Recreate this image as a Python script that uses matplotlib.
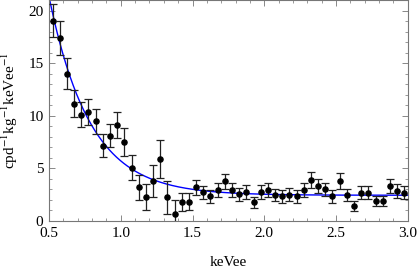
# Event rate spectrum with exponential + constant fit.
import numpy as np
import matplotlib
matplotlib.use("Agg")
import matplotlib.pyplot as plt
from matplotlib.ticker import MultipleLocator

# bin centres (keVee)
energy = [0.525, 0.575, 0.625, 0.675, 0.725, 0.775, 0.825, 0.875, 0.925, 0.975,
          1.025, 1.075, 1.125, 1.175, 1.225, 1.275, 1.325, 1.375, 1.425, 1.475,
          1.525, 1.575, 1.625, 1.675, 1.725, 1.775, 1.825, 1.875, 1.925, 1.975,
          2.025, 2.075, 2.125, 2.175, 2.225, 2.275, 2.325, 2.375, 2.425, 2.475,
          2.525, 2.575, 2.625, 2.675, 2.725, 2.775, 2.825, 2.875, 2.925, 2.975]

# rate (cpd/kg/keVee)
rate = [19.07, 17.4, 14.04, 11.17, 10.12, 10.4, 9.49, 7.15, 8.1, 9.14,
        7.53, 5.06, 3.19, 2.31, 3.8, 5.91, 2.25, 0.66, 1.83, 1.83,
        3.2, 2.72, 2.34, 2.97, 3.76, 2.94, 2.53, 2.78, 1.77, 2.78,
        2.97, 2.47, 2.34, 2.5, 2.34, 2.97, 3.89, 3.32, 3.0, 2.34,
        3.8, 2.47, 1.42, 2.69, 2.69, 1.9, 1.9, 3.32, 2.85, 2.69]

# 1-sigma errors
err = [1.6, 1.6, 1.45, 1.3, 1.2, 1.25, 1.2, 1.1, 1.1, 1.2,
       1.3, 1.2, 1.2, 1.25, 1.5, 1.8, 1.6, 1.35, 0.85, 0.8,
       0.7, 0.65, 0.65, 0.65, 0.75, 0.7, 0.65, 0.65, 0.5, 0.65,
       0.65, 0.6, 0.6, 0.6, 0.6, 0.65, 0.75, 0.7, 0.65, 0.6,
       0.75, 0.6, 0.5, 0.6, 0.6, 0.5, 0.5, 0.7, 0.65, 0.6]

# fit: constant + exponential
fit_const = 2.45
fit_amp = 18.9
fit_tau = 0.285

plt.rcParams['font.family'] = ['Liberation Serif', 'DejaVu Serif']
plt.rcParams['mathtext.fontset'] = 'stix'

fig = plt.figure(figsize=(4.17, 2.70), dpi=100)
ax = fig.add_axes([0.1175, 0.1815, 0.8605, 0.817])

e_fit = np.linspace(0.5, 3.0, 400)
ax.plot(e_fit, fit_const + fit_amp * np.exp(-(e_fit - 0.5) / fit_tau),
        color='#0000ff', lw=1.0, zorder=2)

ax.errorbar(energy, rate, yerr=err, fmt='o', color='black', ms=3.7,
            ecolor='#222222', elinewidth=0.9, capsize=2.6, capthick=0.9, zorder=3)

ax.set_xlim(0.5, 3.0)
ax.set_ylim(0, 21)
ax.xaxis.set_major_locator(MultipleLocator(0.5))
ax.xaxis.set_minor_locator(MultipleLocator(0.1))
ax.yaxis.set_major_locator(MultipleLocator(5))
ax.yaxis.set_minor_locator(MultipleLocator(1))
ax.xaxis.set_major_formatter(plt.FuncFormatter(lambda v, p: '%.1f' % v))

for s in ax.spines.values():
    s.set_color('#777777')
    s.set_linewidth(0.8)
ax.tick_params(which='both', direction='in', top=True, right=True,
               color='#888888', labelsize=11, labelcolor='black')
ax.tick_params(which='major', length=4, width=0.7, pad=4)
ax.tick_params(which='minor', length=2, width=0.6)

ax.set_xlabel('keVee', fontsize=11, labelpad=12)
ax.set_ylabel(r'cpd$^{-1}$kg$^{-1}$keVee$^{-1}$', fontsize=11, labelpad=6)

fig.savefig('out.png', dpi=100)
